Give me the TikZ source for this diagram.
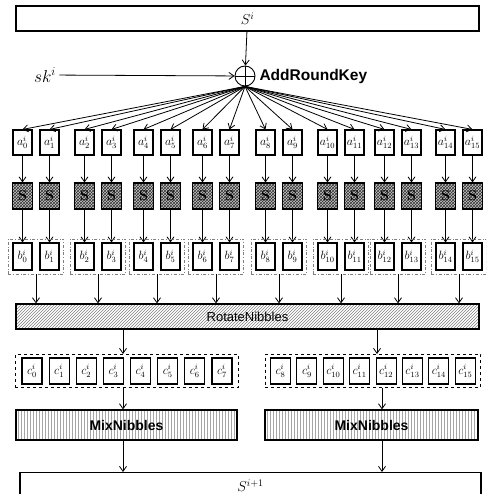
\documentclass[tikz,border=0pt]{standalone}
\usepackage{fontspec}
\setsansfont{Liberation Sans}
\usetikzlibrary{arrows.meta,patterns,fit}

\begin{document}
\begin{tikzpicture}[x=1pt,y=-1pt,>={Straight Barb[length=5pt,width=7pt]},
    cell/.style={draw,line width=1.1pt,fill=white,minimum width=19pt,minimum height=25pt,inner sep=0pt,font=\large},
    sbox/.style={draw,line width=1.1pt,minimum width=20pt,minimum height=26pt,inner sep=0pt,
      preaction={fill=gray!45},pattern=crosshatch,pattern color=black!80,font=\Large\bfseries},
    wide/.style={draw,line width=1.2pt,minimum height=25pt,inner sep=0pt},
    bgroup/.style={draw=gray,dash dot,line width=0.6pt,inner xsep=4pt,inner ysep=3.5pt},
    cgroup/.style={draw,dashed,line width=0.9pt,inner xsep=6pt,inner ysep=3pt},
    link/.style={->,line width=0.8pt}]
  \useasboundingbox (0,0) rectangle (486,494);
  \clip (0,0) rectangle (486,494);

  % input state and key addition
  \node[wide,minimum width=463pt] (si) at (247.5,18.5) {\Large $S^{i}$};
  \node[draw,circle,line width=0.9pt,minimum size=20pt,inner sep=0pt] (xor) at (245,76) {};
  \draw[line width=0.9pt] (xor.north) -- (xor.south) (xor.west) -- (xor.east);
  \node[font=\LARGE] (sk) at (45,75) {$sk^{i}$};
  \node[font=\fontsize{15.5}{18}\sffamily\bfseries,anchor=west] (ark) at (256,76) {AddRoundKey};
  \draw[link] (si) -- (xor);
  \draw[link] (sk) -- (xor);

  % nibbles through the S-boxes
  \foreach \i/\x in {0/22.5,1/49.5,2/84.5,3/111.5,4/143.5,5/170.5,6/202.5,7/229.5,
      8/265.5,9/292.5,10/327.5,11/354.5,12/384.5,13/411.5,14/445.5,15/472.5} {
    \node[cell] (a\i) at (\x,142.5) {$a^{i}_{\i}$};
    \node[sbox] (s\i) at (\x,196) {S};
    \node[cell,minimum height=27pt] (b\i) at (\x,256.5) {$b^{i}_{\i}$};
    \draw[link] (xor.south) -- (a\i.north);
    \draw[link] (a\i) -- (s\i);
    \draw[link] (s\i) -- (b\i);
  }

  \node[wide,minimum width=463pt,pattern=north east lines,pattern color=gray,
    font=\fontsize{13}{15}\sffamily] (rot) at (247.5,316.5) {RotateNibbles};
  \foreach \p/\q [count=\g from 0] in {0/1,2/3,4/5,6/7,8/9,10/11,12/13,14/15} {
    \node[bgroup,fit=(b\p)(b\q)] (g\g) {};
    \draw[link] (g\g.south) -- (g\g.south |- rot.north);
  }

  % two halves
  \foreach \i in {0,...,7}
    \node[cell,minimum width=20pt,minimum height=26pt] (c\i) at ({32+27.14*\i},371) {$c^{i}_{\i}$};
  \foreach \i in {8,...,15}
    \node[cell,minimum width=20pt,minimum height=26pt] (c\i) at ({280.5+26.4*(\i-8)},371) {$c^{i}_{\i}$};
  \node[cgroup,fit=(c0)(c7)] (cl) {};
  \node[cgroup,inner xsep=5pt,fit=(c8)(c15)] (cr) {};

  \node[wide,minimum width=221pt,minimum height=30pt,pattern=vertical lines,pattern color=gray!70,
    font=\fontsize{14}{16}\sffamily\bfseries] (ml) at (126.5,425) {MixNibbles};
  \node[wide,minimum width=213pt,minimum height=30pt,pattern=vertical lines,pattern color=gray!70,
    font=\fontsize{14}{16}\sffamily\bfseries] (mr) at (371.5,425) {MixNibbles};
  \node[wide,minimum width=461pt,minimum height=26pt,anchor=north] (so) at (250.5,472) {\Large $S^{i+1}$};

  \coordinate (xl) at (123,0);
  \coordinate (xr) at (377,0);
  \coordinate (xs) at (382,0);
  \draw[link] (rot.south -| xl) -- (cl.north -| xl);
  \draw[link] (rot.south -| xr) -- (cr.north -| xr);
  \draw[link] (cl.south -| xl) -- (ml.north -| xl);
  \draw[link] (cr.south -| xs) -- (mr.north -| xs);
  \draw[link] (ml.south -| xl) -- (so.north -| xl);
  \draw[link] (mr.south -| xs) -- (so.north -| xs);
\end{tikzpicture}
\end{document}
